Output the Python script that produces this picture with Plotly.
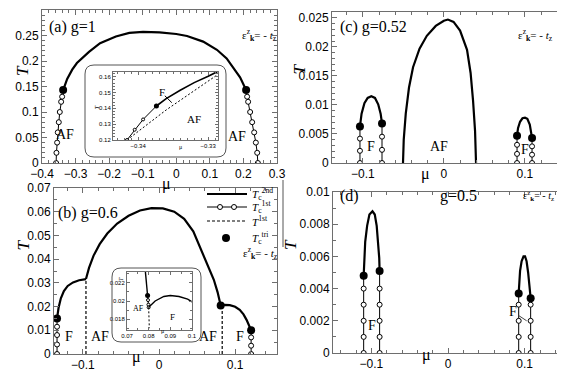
import plotly.graph_objects as go

# the page body has an 8px margin, so the figure is drawn 8px in from the corner
OFF = 8
W, H = 565 - OFF, 376 - OFF

# ---------------- panel (a) g=1 ----------------
a_tc2_mu = [-0.337, -0.325, -0.31, -0.296, -0.26, -0.227, -0.18, -0.14, -0.099, -0.05, 0.0, 0.032, 0.08, 0.121, 0.15, 0.169, 0.19, 0.208]
a_tc2_T = [0.143, 0.165, 0.183, 0.196, 0.218, 0.235, 0.248, 0.255, 0.257, 0.256, 0.253, 0.249, 0.238, 0.222, 0.205, 0.188, 0.168, 0.143]
a_left_mu = [-0.337, -0.340, -0.343, -0.347, -0.350, -0.353, -0.355, -0.357, -0.358]
a_right_mu = [0.208, 0.211, 0.214, 0.220, 0.226, 0.232, 0.237, 0.241, 0.243]
a_chain_T = [0.143, 0.13, 0.12, 0.10, 0.08, 0.06, 0.04, 0.02, 0.0]
a_tri_mu = [-0.337, 0.208]
a_tri_T = [0.143, 0.143]

# inset of (a)
ia_tc2_mu = [-0.3374, -0.336, -0.334, -0.332, -0.330, -0.3287]
ia_tc2_T = [0.1415, 0.1462, 0.1515, 0.1563, 0.1603, 0.1632]
ia_tc1_mu = [-0.3416, -0.3405, -0.3393, -0.3374]
ia_tc1_T = [0.12, 0.1265, 0.133, 0.1415]
ia_t1_mu = [-0.3416, -0.336, -0.3287]
ia_t1_T = [0.12, 0.139, 0.1612]

# ---------------- panel (c) g=0.52 ----------------
c_fl_mu = [-0.1035, -0.1015, -0.098, -0.094, -0.0895, -0.085, -0.081, -0.078, -0.0763]
c_fl_T = [0.0063, 0.0085, 0.0103, 0.0112, 0.0115, 0.0112, 0.0101, 0.0085, 0.0068]
c_af_mu = [-0.0504, -0.0495, -0.047, -0.043, -0.038, -0.030, -0.021, -0.01, 0.0, 0.005, 0.012, 0.02, 0.0286, 0.033, 0.036, 0.0385, 0.0397]
c_af_T = [0, 0.004, 0.0085, 0.013, 0.0165, 0.0197, 0.0219, 0.0236, 0.0245, 0.0247, 0.0243, 0.0228, 0.0195, 0.0155, 0.0108, 0.0055, 0]
c_fr_mu = [0.0903, 0.0915, 0.094, 0.097, 0.1001, 0.103, 0.106, 0.108, 0.1088]
c_fr_T = [0.0047, 0.006, 0.0071, 0.0077, 0.0078, 0.0076, 0.0066, 0.0053, 0.0043]
c_chain_mu = [-0.1035, -0.0763, 0.0903, 0.1088]
c_chain_top = [0.0063, 0.0068, 0.0047, 0.0043]

# ---------------- panel (b) g=0.6 ----------------
b_fl_mu = [-0.134, -0.132, -0.129, -0.125, -0.12, -0.113, -0.105, -0.096]
b_fl_T = [0.015, 0.0195, 0.0235, 0.0265, 0.0287, 0.0302, 0.0311, 0.0316]
b_af_mu = [-0.096, -0.092, -0.086, -0.078, -0.068, -0.055, -0.04, -0.025, -0.01, 0.005, 0.02, 0.033, 0.045, 0.054, 0.063, 0.072, 0.077, 0.081]
b_af_T = [0.0316, 0.0363, 0.0415, 0.0463, 0.0508, 0.055, 0.0583, 0.0605, 0.0615, 0.0614, 0.06, 0.057, 0.0517, 0.045, 0.0385, 0.0313, 0.026, 0.0205]
b_fr_mu = [0.081, 0.086, 0.093, 0.1, 0.106, 0.111, 0.115, 0.118, 0.121]
b_fr_T = [0.0205, 0.0207, 0.0206, 0.0199, 0.0186, 0.0167, 0.0144, 0.0122, 0.0100]
b_t1_mu = [-0.096, 0.083]
b_t1_top = [0.0316, 0.0205]
b_chain_l_T = [0, 0.004, 0.008, 0.0115, 0.015]
b_chain_r_T = [0, 0.0035, 0.007, 0.010]
b_tri_mu = [-0.134, 0.081, 0.121]
b_tri_T = [0.015, 0.0205, 0.010]

# inset of (b)
ib_af_mu = [0.0785, 0.0795]
ib_af_T = [0.0232, 0.0206]
ib_tc1_mu = [0.0795, 0.0797, 0.0799, 0.0800]
ib_tc1_T = [0.0206, 0.0201, 0.0196, 0.0193]
ib_t1_mu = [0.0800, 0.0803]
ib_t1_T = [0.0193, 0.0170]
ib_f_mu = [0.0800, 0.083, 0.087, 0.09, 0.094, 0.098, 0.1]
ib_f_T = [0.0193, 0.0200, 0.0205, 0.0206, 0.0205, 0.0202, 0.0199]

# ---------------- panel (d) g=0.5 ----------------
d_fl_mu = [-0.110, -0.1095, -0.108, -0.1055, -0.1025, -0.0985, -0.0955, -0.093, -0.091, -0.0897, -0.0892]
d_fl_T = [0.0048, 0.0058, 0.0069, 0.0079, 0.0086, 0.0088, 0.0086, 0.0079, 0.0069, 0.0059, 0.0051]
d_fr_mu = [0.0922, 0.0927, 0.094, 0.096, 0.0985, 0.1005, 0.1025, 0.1045, 0.106, 0.1072, 0.1078]
d_fr_T = [0.0037, 0.0044, 0.0051, 0.0057, 0.006, 0.006, 0.0057, 0.005, 0.0043, 0.0038, 0.0034]
d_chain_mu = [-0.110, -0.0892, 0.0922, 0.1078]
d_chain_T = [[0, 0.001, 0.002, 0.003, 0.004, 0.0048],
             [0, 0.001, 0.002, 0.003, 0.004, 0.0051],
             [0, 0.001, 0.002, 0.003, 0.0037],
             [0, 0.001, 0.002, 0.003, 0.0034]]

legend_names = ["<i>T</i><sub>c</sub><sup>2nd</sup>", "<i>T</i><sub>c</sub><sup>1st</sup>",
                "<i>T</i><sup>1st</sup>", "<i>T</i><sub>c</sub><sup>tri</sup>"]

SERIF = "Liberation Serif"
SANS = "Liberation Sans"
AXC = "#6e6e6e"


def fx(px):
    return (px - OFF) / W


def fy(py):
    return 1 - (py - OFF) / H


fig = go.Figure()

solid = dict(color="black", width=2.2)
thin = dict(color="black", width=1)
dotted = dict(color="black", width=1.2, dash="3px,2px")
ocirc = dict(symbol="circle", size=5, color="white", line=dict(color="black", width=1))
fcirc = dict(symbol="circle", size=8, color="black")


def curve(x, y, xa, ya, line=solid):
    fig.add_trace(go.Scatter(x=x, y=y, xaxis=xa, yaxis=ya, mode="lines", line=line,
                             showlegend=False, hoverinfo="skip"))


def chain(x, y, xa, ya, msize=5):
    fig.add_trace(go.Scatter(x=x, y=y, xaxis=xa, yaxis=ya, mode="lines+markers",
                             line=thin, marker=dict(ocirc, size=msize), showlegend=False,
                             hoverinfo="skip"))


def dots(x, y, xa, ya, size=8):
    fig.add_trace(go.Scatter(x=x, y=y, xaxis=xa, yaxis=ya, mode="markers",
                             marker=dict(fcirc, size=size), showlegend=False, hoverinfo="skip"))


# (a)
curve(a_tc2_mu, a_tc2_T, "x", "y")
chain(a_left_mu[1:], a_chain_T[1:], "x", "y")
chain(a_right_mu[1:], a_chain_T[1:], "x", "y")
dots(a_tri_mu, a_tri_T, "x", "y")
# inset (a)
curve(ia_t1_mu, ia_t1_T, "x5", "y5", line=dict(color="black", width=1, dash="2px,2px"))
chain(ia_tc1_mu, ia_tc1_T, "x5", "y5", msize=3)
curve(ia_tc2_mu, ia_tc2_T, "x5", "y5", line=dict(color="black", width=1.6))
dots([ia_tc2_mu[0]], [ia_tc2_T[0]], "x5", "y5", size=5)

# (c)
for mu, top in zip(c_chain_mu, c_chain_top):
    chain([mu] * 4, [0, top / 3, 2 * top / 3, top], "x2", "y2")
curve(c_fl_mu, c_fl_T, "x2", "y2")
curve(c_af_mu, c_af_T, "x2", "y2")
curve(c_fr_mu, c_fr_T, "x2", "y2")
dots(c_chain_mu, c_chain_top, "x2", "y2")

# (b)
curve(b_af_mu, b_af_T, "x3", "y3")
chain([b_fl_mu[0]] * 5, b_chain_l_T, "x3", "y3")
for mu, top in zip(b_t1_mu, b_t1_top):
    curve([mu, mu], [0, top], "x3", "y3", line=dotted)
curve(b_fl_mu, b_fl_T, "x3", "y3")
curve(b_fr_mu, b_fr_T, "x3", "y3")
chain([b_fr_mu[-1]] * 4, b_chain_r_T, "x3", "y3")
dots(b_tri_mu, b_tri_T, "x3", "y3")
# inset (b)
curve(ib_af_mu, ib_af_T, "x6", "y6", line=dict(color="black", width=1.4))
chain(ib_tc1_mu, ib_tc1_T, "x6", "y6", msize=3)
curve(ib_t1_mu, ib_t1_T, "x6", "y6", line=dict(color="black", width=1, dash="2px,2px"))
curve(ib_f_mu, ib_f_T, "x6", "y6", line=dict(color="black", width=1.4))
dots([ib_af_mu[-1]], [ib_af_T[-1]], "x6", "y6", size=5)

# (d)
for mu, ts in zip(d_chain_mu, d_chain_T):
    chain([mu] * len(ts), ts, "x4", "y4")
curve(d_fl_mu, d_fl_T, "x4", "y4")
curve(d_fr_mu, d_fr_T, "x4", "y4")
dots([d_fl_mu[0], d_fl_mu[-1], d_fr_mu[0], d_fr_mu[-1]],
     [d_fl_T[0], d_fl_T[-1], d_fr_T[0], d_fr_T[-1]], "x4", "y4")


def axis(px0, px1, rng, dtick, minor, size=12, tl=5, anchor=None, vertical=False):
    dom = [fy(px1), fy(px0)] if vertical else [fx(px0), fx(px1)]
    return dict(domain=dom, range=rng, dtick=dtick, tick0=0, showline=True, linecolor=AXC,
                linewidth=1, mirror="allticks", ticks="inside", ticklen=tl, tickwidth=1,
                tickcolor=AXC, showgrid=False, zeroline=False, anchor=anchor,
                tickfont=dict(family=SANS, size=size, color="black"),
                minor=dict(ticks="inside", ticklen=max(2, tl - 2), tickcolor=AXC, dtick=minor,
                           showgrid=False))


fig.update_layout(
    width=W, height=H, margin=dict(l=0, r=0, t=0, b=0),
    paper_bgcolor="white", plot_bgcolor="white", template="none", showlegend=False,
    xaxis=axis(42, 277, [-0.4, 0.3], 0.1, 0.02, anchor="y"),
    yaxis=axis(10, 163, [0, 0.3], 0.05, 0.01, anchor="x", vertical=True),
    xaxis2=axis(332, 563, [-0.138, 0.147], 0.1, 0.02, anchor="y2"),
    yaxis2=axis(12, 163, [0, 0.026], 0.005, 0.001, anchor="x2", vertical=True),
    xaxis3=axis(54, 277, [-0.138, 0.155], 0.1, 0.02, anchor="y3"),
    yaxis3=axis(188, 354, [0, 0.07], 0.01, 0.005, anchor="x3", vertical=True),
    xaxis4=axis(333, 563, [-0.15, 0.15], 0.1, 0.02, anchor="y4"),
    yaxis4=axis(192, 353, [0, 0.01], 0.002, 0.001, anchor="x4", vertical=True),
    xaxis5=axis(113, 218, [-0.3436, -0.3286], 0.01, 0.001, size=6, tl=3, anchor="y5"),
    yaxis5=axis(72, 140, [0.12, 0.163], 0.01, 0.002, size=6, tl=3, anchor="x5", vertical=True),
    xaxis6=axis(127, 192, [0.07, 0.1], 0.01, 0.005, size=6, tl=3, anchor="y6"),
    yaxis6=axis(272, 330, [0.0168, 0.0232], 0.002, 0.001, size=6, tl=3, anchor="x6", vertical=True),
)

ann = []


def text(x, y, s, size=14, ref=None, **kw):
    if ref is None:
        x, y, ref = fx(x), fy(y), ("paper", "paper")
    ann.append(dict(x=x, y=y, xref=ref[0], yref=ref[1], text=s, showarrow=False,
                    font=dict(family=SERIF, size=size, color="black"), **kw))


eps = "ε<sup>z</sup><sub><b>k</b></sub>= - <i>t</i><sub>z</sub>"
# panel titles
text(47, 16, "(a) g=1", 16, xanchor="left")
text(338, 16, "(c) g=0.52", 16, xanchor="left")
text(56, 213, "(b) g=0.6", 16, xanchor="left")
text(338, 196, "(d)", 16, xanchor="left")
text(438, 196, "g=0.5", 16, xanchor="left")
text(240, 25, eps, 11, xanchor="left")
text(516, 25, eps, 11, xanchor="left")
text(241, 263, eps, 11, xanchor="left")
text(521, 196, eps, 10, xanchor="left")
# axis titles
for x, y in [(160, 184), (130, 368), (432, 174), (433, 366)]:
    text(x, y, "μ", 16)
for x, y in [(11, 63), (11, 245), (299, 62), (290, 244)]:
    text(x, y, "<i>T</i>", 17, textangle=-90)
# region labels
text(-0.331, 0.055, "AF", 14, ref=("x", "y"))
text(0.181, 0.051, "AF", 14, ref=("x", "y"))
text(-0.0895, 0.0028, "F", 14, ref=("x2", "y2"))
text(-0.006, 0.0028, "AF", 14, ref=("x2", "y2"))
text(0.1, 0.0024, "F", 14, ref=("x2", "y2"))
text(-0.118, 0.0075, "F", 14, ref=("x3", "y3"))
text(-0.077, 0.0075, "AF", 14, ref=("x3", "y3"))
text(0.064, 0.0075, "AF", 14, ref=("x3", "y3"))
text(0.106, 0.0075, "F", 14, ref=("x3", "y3"))
text(-0.0995, 0.0017, "F", 14, ref=("x4", "y4"))
ann.append(dict(x=0.1026, y=0.0020, xref="x4", yref="y4", ax=0.085, ay=0.00255, axref="x4", ayref="y4",
                text="F", showarrow=True, arrowhead=0, arrowwidth=1, standoff=0,
                font=dict(family=SERIF, size=14, color="black")))
# inset labels
text(-0.3366, 0.1505, "F", 11, ref=("x5", "y5"))
fig.add_shape(type="line", xref="x5", yref="y5", x0=-0.3362, y0=0.1480, x1=-0.3352, y1=0.1436,
              line=dict(color="black", width=1))
text(-0.3320, 0.1330, "AF", 11, ref=("x5", "y5"))
text(0.0755, 0.0192, "AF", 8, ref=("x6", "y6"))
text(0.0912, 0.0182, "F", 9, ref=("x6", "y6"))
text(177, 147, "μ", 6)
text(90, 103, "<i>T</i>", 7, textangle=-90)
text(159, 336, "μ", 6)
text(116, 283, "<i>T</i>", 6, textangle=-90)

# legend of panel (b), drawn beside the curves
leg_y = [194, 207, 221, 238]
fig.add_shape(type="line", xref="paper", yref="paper", x0=fx(207), x1=fx(247), y0=fy(leg_y[0]), y1=fy(leg_y[0]),
              line=solid)
fig.add_shape(type="line", xref="paper", yref="paper", x0=fx(207), x1=fx(247), y0=fy(leg_y[1]), y1=fy(leg_y[1]),
              line=thin)
for cx in (220, 234):
    fig.add_shape(type="circle", xref="paper", yref="paper", x0=fx(cx - 2.5), x1=fx(cx + 2.5),
                  y0=fy(leg_y[1] + 2.5), y1=fy(leg_y[1] - 2.5), fillcolor="white",
                  line=dict(color="black", width=1))
fig.add_shape(type="line", xref="paper", yref="paper", x0=fx(207), x1=fx(247), y0=fy(leg_y[2]), y1=fy(leg_y[2]),
              line=dotted)
fig.add_shape(type="circle", xref="paper", yref="paper", x0=fx(222), x1=fx(230),
              y0=fy(leg_y[3] + 4), y1=fy(leg_y[3] - 4), fillcolor="black", line=dict(color="black", width=0))
for yy, name in zip(leg_y, legend_names):
    text(250, yy, name, 11, xanchor="left")
fig.update_layout(annotations=ann)


def rbox(x0, y0, x1, y1, r=9):
    rx, ry = r / W, r / H
    X0, X1 = fx(x0), fx(x1)
    Y0, Y1 = fy(y1), fy(y0)
    return (f"M{X0 + rx},{Y0} L{X1 - rx},{Y0} Q{X1},{Y0} {X1},{Y0 + ry} L{X1},{Y1 - ry} "
            f"Q{X1},{Y1} {X1 - rx},{Y1} L{X0 + rx},{Y1} Q{X0},{Y1} {X0},{Y1 - ry} "
            f"L{X0},{Y0 + ry} Q{X0},{Y0} {X0 + rx},{Y0} Z")


fig.add_shape(type="path", xref="paper", yref="paper", path=rbox(85, 65, 226, 157),
              line=dict(color="#555", width=1))
fig.add_shape(type="path", xref="paper", yref="paper", path=rbox(112, 268, 201, 342),
              line=dict(color="#555", width=1))
fig.add_shape(type="line", xref="paper", yref="paper", x0=fx(283), x1=fx(283),
              y0=fy(180), y1=fy(247), line=dict(color="#555", width=1))

fig.write_html("out.html")
